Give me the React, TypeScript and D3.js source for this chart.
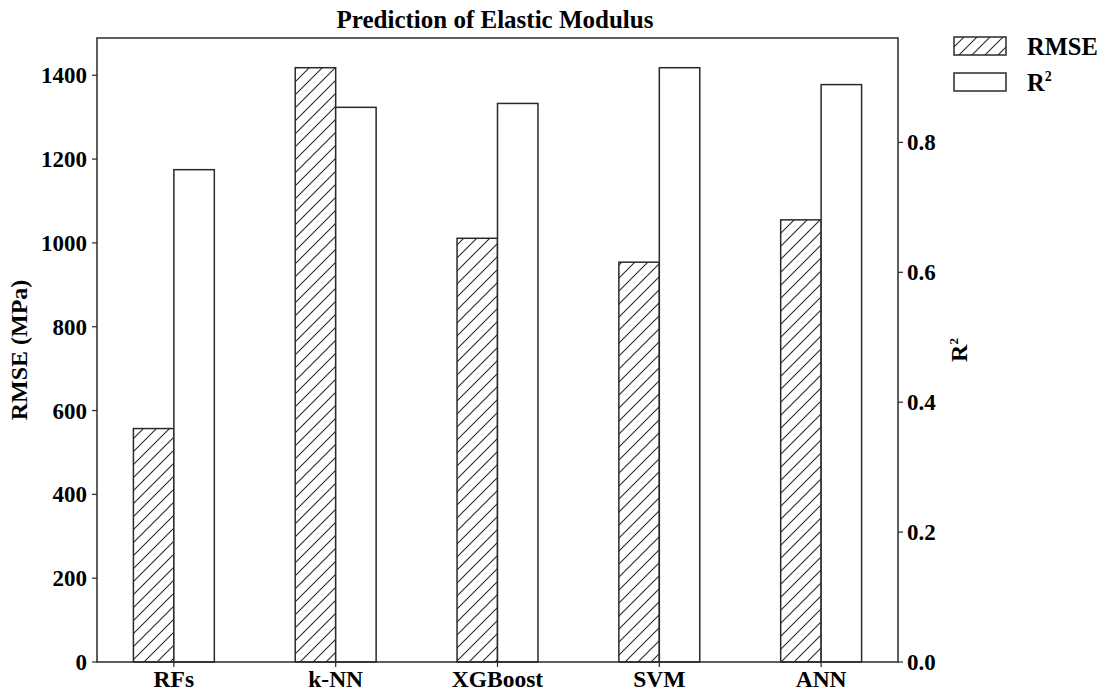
import React from "react";
import * as d3 from "d3";

const categories = ["RFs", "k-NN", "XGBoost", "SVM", "ANN"];
const rmseValues = [557, 1418, 1011, 954, 1055];
const r2Values = [0.758, 0.854, 0.86, 0.915, 0.889];
const leftTicks = [0, 200, 400, 600, 800, 1000, 1200, 1400];
const rightTicks = [0, 0.2, 0.4, 0.6, 0.8];

const W = 1102, H = 693;
const L = 97, R = 898, T = 38, B = 662;
const font = "'Liberation Serif', 'Times New Roman', serif";
const stroke = "#2a2a2a";

export default function App() {
  const x = d3.scaleLinear().domain([-0.475, categories.length - 1 + 0.475]).range([L, R]);
  const yL = d3.scaleLinear().domain([0, d3.max(rmseValues)! * 1.05]).range([B, T]);
  const yR = d3.scaleLinear().domain([0, d3.max(r2Values)! * 1.05]).range([B, T]);
  const bw = x(0.25) - x(0);
  return (
    <svg width={W} height={H} style={{ position: "absolute", left: 0, top: 0, background: "#fff" }}>
      <defs>
        <pattern id="hatch" patternUnits="userSpaceOnUse" width={13} height={13}>
          <path d="M-1,1 l2,-2 M0,13 l13,-13 M12,14 l2,-2" stroke={stroke} strokeWidth={1.1} />
        </pattern>
      </defs>
      <rect width={W} height={H} fill="#fff" />
      <text x={495} y={28} textAnchor="middle" fontFamily={font} fontWeight="bold" fontSize={25}>
        Prediction of Elastic Modulus
      </text>
      {categories.map((c, i) => (
        <g key={c}>
          <rect x={x(i) - bw} y={yL(rmseValues[i])} width={bw} height={B - yL(rmseValues[i])}
            fill="url(#hatch)" stroke={stroke} strokeWidth={1.5} />
          <rect x={x(i)} y={yR(r2Values[i])} width={bw} height={B - yR(r2Values[i])}
            fill="#fff" stroke={stroke} strokeWidth={1.5} />
        </g>
      ))}
      <rect x={L} y={T} width={R - L} height={B - T} fill="none" stroke={stroke} strokeWidth={1.5} />
      {leftTicks.map((t) => (
        <g key={"l" + t}>
          <line x1={L - 5} x2={L} y1={yL(t)} y2={yL(t)} stroke={stroke} strokeWidth={1.2} />
          <text x={L - 10} y={yL(t)} dy="0.35em" textAnchor="end" fontFamily={font} fontWeight="bold" fontSize={23}>
            {t}
          </text>
        </g>
      ))}
      {rightTicks.map((t) => (
        <g key={"r" + t}>
          <line x1={R} x2={R + 5} y1={yR(t)} y2={yR(t)} stroke={stroke} strokeWidth={1.2} />
          <text x={R + 9} y={yR(t)} dy="0.35em" textAnchor="start" fontFamily={font} fontWeight="bold" fontSize={23}>
            {t.toFixed(1)}
          </text>
        </g>
      ))}
      {categories.map((c, i) => (
        <g key={"x" + c}>
          <line x1={x(i)} x2={x(i)} y1={B} y2={B + 5} stroke={stroke} strokeWidth={1.2} />
          <text x={x(i)} y={B + 25} textAnchor="middle" fontFamily={font} fontWeight="bold" fontSize={23.5}>
            {c}
          </text>
        </g>
      ))}
      <text transform={`translate(27,${(T + B) / 2}) rotate(-90)`} textAnchor="middle" fontFamily={font} fontWeight="bold" fontSize={24}>
        RMSE (MPa)
      </text>
      <text transform={`translate(967,${(T + B) / 2}) rotate(-90)`} textAnchor="middle" fontFamily={font} fontWeight="bold" fontSize={24}>
        R<tspan dy={-9} fontSize={13}>2</tspan>
      </text>
      <g>
        <rect x={954} y={37} width={52} height={18} fill="url(#hatch)" stroke={stroke} strokeWidth={1.5} />
        <text x={1027} y={55} fontFamily={font} fontWeight="bold" fontSize={24.5}>RMSE</text>
        <rect x={954} y={73} width={52} height={18} fill="#fff" stroke={stroke} strokeWidth={1.5} />
        <text x={1027} y={91} fontFamily={font} fontWeight="bold" fontSize={24.5}>
          R<tspan dy={-10} fontSize={14}>2</tspan>
        </text>
      </g>
    </svg>
  );
}
